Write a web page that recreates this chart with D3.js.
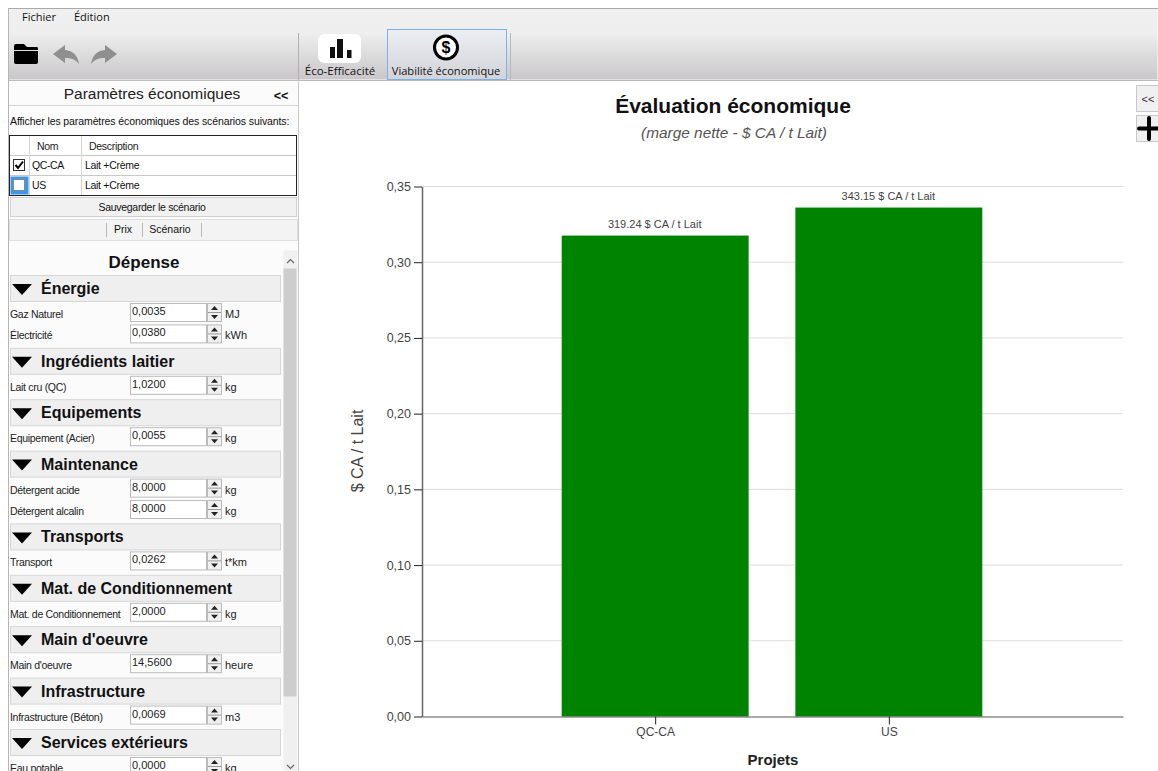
<!DOCTYPE html>
<html lang="fr">
<head>
<meta charset="utf-8">
<title>Évaluation économique</title>
<script src="https://cdn.jsdelivr.net/npm/d3@7/dist/d3.min.js"></script>
<style>
  html, body { margin: 0; padding: 0; background: #fff; overflow: hidden; }
  svg { display: block; font-family: "Liberation Sans", Arial, sans-serif; }
  .ui { font-family: "Open Sans", "Noto Sans", sans-serif; }
</style>
</head>
<body>
<svg id="app" width="1158" height="771"></svg>
<script>
// Chart data
const projects = ["QC-CA", "US"];
const netMargins = [0.3176, 0.3361];
const marginLabels = ["319.24 $ CA / t Lait", "343.15 $ CA / t Lait"];
const yTicks = [0, 0.05, 0.10, 0.15, 0.20, 0.25, 0.30, 0.35];

// Side panel contents
const scenarioNames = ["QC-CA", "US"];
const scenarioDescriptions = ["Lait +Crème", "Lait +Crème"];
const sectionNames = ["Énergie", "Ingrédients laitier", "Equipements", "Maintenance", "Transports",
  "Mat. de Conditionnement", "Main d'oeuvre", "Infrastructure", "Services extérieurs"];
const fieldLabels = [["Gaz Naturel", "Électricité"], ["Lait cru (QC)"], ["Equipement (Acier)"],
  ["Détergent acide", "Détergent alcalin"], ["Transport"], ["Mat. de Conditionnement"],
  ["Main d'oeuvre"], ["Infrastructure (Béton)"], ["Eau potable"]];
const fieldValues = [["0,0035", "0,0380"], ["1,0200"], ["0,0055"], ["8,0000", "8,0000"], ["0,0262"],
  ["2,0000"], ["14,5600"], ["0,0069"], ["0,0000"]];
const fieldUnits = [["MJ", "kWh"], ["kg"], ["kg"], ["kg", "kg"], ["t*km"], ["kg"], ["heure"], ["m3"], ["kg"]];

const svg = d3.select("#app");

const defs = svg.append("defs");
const toolbarGrad = defs.append("linearGradient").attr("id", "toolbarGrad")
  .attr("x1", 0).attr("x2", 0).attr("y1", 0).attr("y2", 1);
toolbarGrad.append("stop").attr("offset", "0%").attr("stop-color", "#f0f0f0");
toolbarGrad.append("stop").attr("offset", "35%").attr("stop-color", "#eeeeee");
toolbarGrad.append("stop").attr("offset", "100%").attr("stop-color", "#c9c7c9");
defs.append("clipPath").attr("id", "panelClip").append("rect")
  .attr("x", 9).attr("y", 241).attr("width", 289).attr("height", 530);

function box(parent, x, y, w, h, fill, stroke) {
  return parent.append("rect").attr("x", x + 0.5).attr("y", y + 0.5)
    .attr("width", w - 1).attr("height", h - 1)
    .attr("fill", fill).attr("stroke", stroke || "none");
}
function label(parent, x, y, text, size, opts = {}) {
  return parent.append("text").attr("x", x).attr("y", y).text(text)
    .attr("font-size", size)
    .attr("fill", opts.fill || "#111")
    .attr("font-weight", opts.weight || null)
    .attr("font-style", opts.style || null)
    .attr("text-anchor", opts.anchor || "start")
    .attr("letter-spacing", opts.spacing || null);
}

/* ---------- Window chrome and toolbar ---------- */
const chrome = svg.append("g").attr("class", "chrome");
box(chrome, 8, 8, 1150, 72, "url(#toolbarGrad)");
chrome.append("line").attr("x1", 8).attr("x2", 1158).attr("y1", 8.5).attr("y2", 8.5).attr("stroke", "#a9a9a9");
chrome.append("line").attr("x1", 8.5).attr("x2", 8.5).attr("y1", 8).attr("y2", 771).attr("stroke", "#b5b5b5");
chrome.append("line").attr("x1", 8).attr("x2", 1158).attr("y1", 80.5).attr("y2", 80.5).attr("stroke", "#bdbbbd");

const menu = chrome.append("g").attr("class", "ui");
label(menu, 22, 21, "Fichier", 11);
label(menu, 74, 21, "Édition", 11);

// Folder, undo and redo icons
chrome.append("path").attr("fill", "#000")
  .attr("d", "M14 46 Q14 44 16 44 L24 44 L27 47 L37 47 Q38 47 38 49 L38 50 L14 50 Z M14 51 L38 51 L38 62 Q38 64 36 64 L16 64 Q14 64 14 62 Z");
chrome.append("path").attr("fill", "#8f8f8f")
  .attr("d", "M53 54 L65 45 L65 50 Q77 51 79 64 Q74 57 65 58 L65 63 Z");
chrome.append("path").attr("fill", "#8f8f8f")
  .attr("d", "M117 54 L105 45 L105 50 Q93 51 91 64 Q96 57 105 58 L105 63 Z");

chrome.append("line").attr("x1", 298.5).attr("x2", 298.5).attr("y1", 33).attr("y2", 80).attr("stroke", "#b0b0b0");
chrome.append("line").attr("x1", 510.5).attr("x2", 510.5).attr("y1", 33).attr("y2", 80).attr("stroke", "#b8b8b8");

// Eco-efficiency tab
chrome.append("rect").attr("x", 318).attr("y", 34).attr("width", 43).attr("height", 29).attr("rx", 6).attr("fill", "#fff");
chrome.selectAll("rect.bar-icon").data([[330, 47, 5, 11], [337, 39, 6, 19], [347, 50, 4.5, 8]]).join("rect")
  .attr("class", "bar-icon").attr("fill", "#111")
  .attr("x", d => d[0]).attr("y", d => d[1]).attr("width", d => d[2]).attr("height", d => d[3]);
label(chrome.append("g").attr("class", "ui"), 340, 75, "Éco-Efficacité", 11.5, { anchor: "middle" });

// Economic viability tab, currently selected
box(chrome, 387, 29, 120, 51, "rgba(225,235,245,0.35)", "#79b2e8");
chrome.append("circle").attr("cx", 446).attr("cy", 47.5).attr("r", 11.5)
  .attr("fill", "#fff").attr("stroke", "#000").attr("stroke-width", 3);
label(chrome, 446, 53, "$", 16, { anchor: "middle", weight: "bold", fill: "#000" });
label(chrome.append("g").attr("class", "ui"), 446, 75, "Viabilité économique", 11.1, { anchor: "middle" });

/* ---------- Side panel: scenarios ---------- */
const panel = svg.append("g").attr("class", "panel");
box(panel, 9, 81, 289, 690, "#fbfbfb");
panel.append("line").attr("x1", 298.5).attr("x2", 298.5).attr("y1", 81).attr("y2", 771).attr("stroke", "#c9c9c9");
panel.append("line").attr("x1", 9).attr("x2", 298).attr("y1", 105.5).attr("y2", 105.5).attr("stroke", "#d5d5d5");
label(panel, 152, 99, "Paramètres économiques", 15.5, { anchor: "middle", fill: "#222" });
label(panel, 281, 100, "<<", 12.5, { anchor: "middle", weight: "bold" });
label(panel, 10, 125, "Afficher les paramètres économiques des scénarios suivants:", 10.5, { spacing: "-0.1px" });

box(panel, 9, 135, 288, 61, "#fff", "#222");
panel.selectAll("line.row-line").data([155, 175]).join("line").attr("class", "row-line")
  .attr("x1", 10).attr("x2", 296).attr("y1", d => d + 0.5).attr("y2", d => d + 0.5).attr("stroke", "#c8c8c8");
panel.selectAll("line.col-line").data([29, 81]).join("line").attr("class", "col-line")
  .attr("x1", d => d + 0.5).attr("x2", d => d + 0.5).attr("y1", 136).attr("y2", 195).attr("stroke", "#d5d5d5");
label(panel, 37, 150, "Nom", 10.5, { spacing: "-0.3px", fill: "#222" });
label(panel, 89, 150, "Description", 10.5, { spacing: "-0.3px", fill: "#222" });

box(panel, 10, 176, 19, 19, "#3d97e8");
const rowY = d3.scaleOrdinal().domain(scenarioNames).range([155, 175]);
scenarioNames.forEach((name, i) => {
  const top = rowY(name);
  box(panel, 13, top + 4, 12, 12, "#fff", i === 0 ? "#333" : "#888");
  label(panel, 32, top + 14, name, 10.5, { spacing: "-0.4px" });
  label(panel, 85, top + 14, scenarioDescriptions[i], 10.5, { spacing: "-0.3px" });
});
panel.append("path").attr("d", "M15.5 165 L18 168 L23 161.5").attr("fill", "none")
  .attr("stroke", "#000").attr("stroke-width", 2);

box(panel, 10, 197, 287, 20, "#f1f1f1", "#d0d0d0");
label(panel, 152, 211, "Sauvegarder le scénario", 10.5, { anchor: "middle", spacing: "-0.3px" });
box(panel, 9, 219, 289, 22, "#f3f3f3", "#e0e0e0");
panel.selectAll("line.tab-sep").data([106, 142, 201]).join("line").attr("class", "tab-sep")
  .attr("x1", d => d + 0.5).attr("x2", d => d + 0.5).attr("y1", 223).attr("y2", 237).attr("stroke", "#b8b8b8");
label(panel, 123, 233, "Prix", 10.5, { anchor: "middle" });
label(panel, 170, 233, "Scénario", 10.5, { anchor: "middle" });

/* ---------- Side panel: price parameters ---------- */
const form = panel.append("g").attr("clip-path", "url(#panelClip)");
box(form, 283, 250, 15, 521, "#f0f0f0");
box(form, 283, 268, 14, 429, "#cdcdcd");
form.append("path").attr("d", "M287 263 L290.5 259.5 L294 263").attr("fill", "none").attr("stroke", "#666").attr("stroke-width", 1.2);
form.append("path").attr("d", "M287 765 L290.5 768.5 L294 765").attr("fill", "none").attr("stroke", "#666").attr("stroke-width", 1.2);
label(form, 144, 268, "Dépense", 17, { anchor: "middle", weight: "bold" });

const HEADER_STEP = 30, ROW_STEP = 21.4, HEADING_MAX = 195;
let cursor = 275;
sectionNames.forEach((name, s) => {
  box(form, 10, cursor, 271, 27, "#efefef", "#d6d6d6");
  form.append("path").attr("fill", "#000")
    .attr("d", `M12 ${cursor + 9} L32 ${cursor + 9} L22 ${cursor + 20} Z`);
  const heading = label(form, 41, cursor + 19, name, 16, { weight: "bold" });
  // The longest heading is tightened so it stays inside its band
  if (heading.node().getComputedTextLength() > HEADING_MAX) {
    heading.attr("textLength", HEADING_MAX).attr("lengthAdjust", "spacingAndGlyphs");
  }
  fieldLabels[s].forEach((field, r) => {
    const top = cursor + 28 + r * ROW_STEP;
    label(form, 10, top + 15, field, 10.5, { spacing: "-0.3px", fill: "#222" });
    box(form, 130, top, 77, 19, "#fff", "#bbbbbb");
    label(form, 132, top + 12, fieldValues[s][r], 11, { fill: "#222" });
    box(form, 207, top, 15, 19, "#f0f0f0", "#bbbbbb");
    form.append("line").attr("x1", 208).attr("x2", 221).attr("y1", top + 9.5).attr("y2", top + 9.5).attr("stroke", "#999");
    form.append("path").attr("fill", "#222")
      .attr("d", `M211 ${top + 7} L218 ${top + 7} L214.5 ${top + 3} Z M211 ${top + 12} L218 ${top + 12} L214.5 ${top + 16} Z`);
    label(form, 225, top + 15, fieldUnits[s][r], 11, { fill: "#222" });
  });
  cursor += HEADER_STEP + fieldLabels[s].length * ROW_STEP;
});

/* ---------- Collapse and zoom buttons ---------- */
const side = svg.append("g").attr("class", "side");
box(side, 1136, 85, 24, 27, "#f0f0f0", "#c8c8c8");
label(side, 1148, 103, "<<", 11, { anchor: "middle", fill: "#333" });
box(side, 1136, 115, 24, 27, "#f0f0f0", "#c8c8c8");
side.append("path").attr("d", "M1139 128.5 L1158 128.5 M1149 118 L1149 139").attr("stroke", "#000")
  .attr("stroke-width", 4).attr("stroke-linecap", "round");

/* ---------- Net margin chart ---------- */
const plot = { left: 422, right: 1123, top: 186.5, bottom: 716.5 };
const fr = d3.formatLocale({ decimal: ",", thousands: " ", grouping: [3], currency: ["", " $"] });

const x = d3.scaleBand().domain(projects).range([plot.left, plot.right])
  .paddingInner(0.2).paddingOuter(0.6);
const y = d3.scaleLinear().domain([0, 0.35]).range([plot.bottom, plot.top]);

const chart = svg.append("g").attr("class", "chart");

label(chart, 733, 113, "Évaluation économique", 21, { anchor: "middle", weight: "bold", fill: "#111" });
label(chart, 734, 138, "(marge nette - $ CA / t Lait)", 15.4, { anchor: "middle", style: "italic", fill: "#555" });

chart.append("g").selectAll("line").data(yTicks.slice(1)).join("line")
  .attr("x1", plot.left).attr("x2", plot.right)
  .attr("y1", d => y(d)).attr("y2", d => y(d))
  .attr("stroke", "#dcdcdc");

chart.append("g").selectAll("rect").data(projects).join("rect")
  .attr("x", d => x(d) - 0.5).attr("width", x.bandwidth())
  .attr("y", (d, i) => y(netMargins[i]))
  .attr("height", (d, i) => y(0) - y(netMargins[i]))
  .attr("fill", "#008300");

chart.append("g").selectAll("text").data(projects).join("text")
  .attr("x", d => x(d) + x.bandwidth() / 2 - 1)
  .attr("y", (d, i) => y(netMargins[i]) - 8)
  .attr("text-anchor", "middle").attr("font-size", 11).attr("fill", "#444")
  .text((d, i) => marginLabels[i]);

const yAxis = chart.append("g").attr("transform", `translate(${plot.left},0)`)
  .call(d3.axisLeft(y).tickValues(yTicks).tickFormat(fr.format(".2f")).tickSize(8).tickSizeOuter(0).tickPadding(3));
yAxis.select(".domain").attr("stroke", "#666").attr("stroke-width", 1.5);
yAxis.selectAll(".tick line").attr("stroke", "#222");
yAxis.selectAll(".tick text").attr("font-size", 12.5).attr("font-family", "Liberation Sans").attr("fill", "#444");

const xAxis = chart.append("g").attr("transform", `translate(0,${plot.bottom})`)
  .call(d3.axisBottom(x).tickSize(8).tickSizeOuter(0).tickPadding(3));
xAxis.select(".domain").attr("stroke", "#555").attr("stroke-width", 1.2);
xAxis.selectAll(".tick line").attr("stroke", "#222");
xAxis.selectAll(".tick text").attr("font-size", 12).attr("font-family", "Liberation Sans").attr("fill", "#444");

label(chart, 0, 0, "$ CA / t Lait", 16, { anchor: "middle", fill: "#444" })
  .attr("transform", "translate(363,451) rotate(-90)");
label(chart, 773, 765, "Projets", 15, { anchor: "middle", weight: "bold", fill: "#222" });
</script>
</body>
</html>
